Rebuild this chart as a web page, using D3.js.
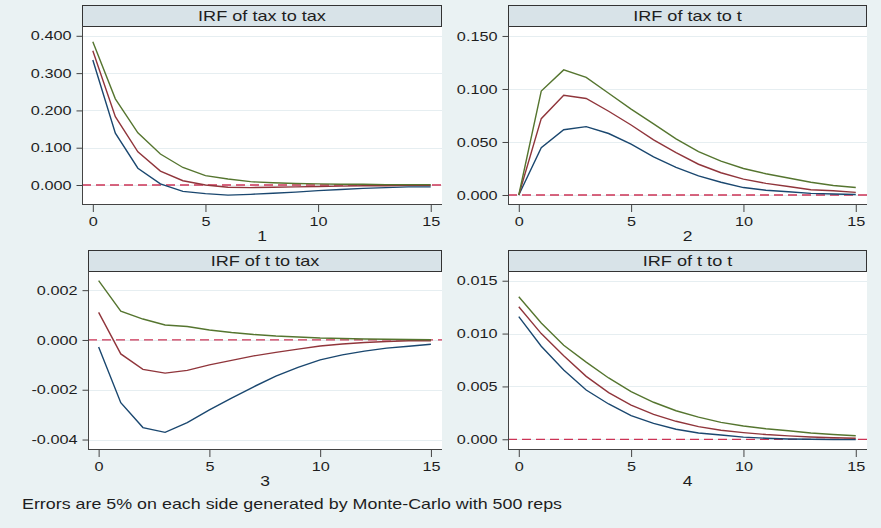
<!DOCTYPE html>
<html>
<head>
<meta charset="utf-8">
<script src="https://cdn.jsdelivr.net/npm/d3@7"></script>
<style>
  html, body { margin: 0; padding: 0; background: #eaf2f3; }
  svg { display: block; }
  text { font-family: "Liberation Sans", Arial, Helvetica, sans-serif; fill: #1e1e1e; }
</style>
</head>
<body>
<svg id="chart" width="881" height="528"></svg>
<script>
// ---------------- data ----------------
const steps = d3.range(0, 16);

const panelTitles = ["IRF of tax to tax", "IRF of tax to t", "IRF of t to tax", "IRF of t to t"];
const axisTitles = ["1", "2", "3", "4"];
const xTicks = [0, 5, 10, 15];
const xTickLabels = ["0", "5", "10", "15"];

const yTicks1 = [0, 0.1, 0.2, 0.3, 0.4];
const yTickLabels1 = ["0.000", "0.100", "0.200", "0.300", "0.400"];
const yTicks2 = [0, 0.05, 0.1, 0.15];
const yTickLabels2 = ["0.000", "0.050", "0.100", "0.150"];
const yTicks3 = [-0.004, -0.002, 0, 0.002];
const yTickLabels3 = ["-0.004", "-0.002", "0.000", "0.002"];
const yTicks4 = [0, 0.005, 0.01, 0.015];
const yTickLabels4 = ["0.000", "0.005", "0.010", "0.015"];

// IRF of tax to tax
const lower1 = [0.335, 0.139, 0.045, 0.003, -0.017, -0.023, -0.027, -0.025, -0.022, -0.019, -0.015, -0.012, -0.009, -0.007, -0.005, -0.005];
const irf1   = [0.360, 0.183, 0.089, 0.0375, 0.0115, 0.000, -0.006, -0.007, -0.006, -0.005, -0.004, -0.003, -0.002, -0.002, -0.001, -0.001];
const upper1 = [0.384, 0.231, 0.140, 0.083, 0.047, 0.025, 0.016, 0.009, 0.006, 0.004, 0.003, 0.002, 0.002, 0.001, 0.001, 0.001];

// IRF of tax to t
const lower2 = [0, 0.0446, 0.0616, 0.0645, 0.058, 0.048, 0.036, 0.026, 0.018, 0.012, 0.007, 0.0045, 0.003, 0.0015, 0.001, 0.0005];
const irf2   = [0, 0.072, 0.094, 0.091, 0.079, 0.066, 0.052, 0.040, 0.029, 0.021, 0.015, 0.011, 0.008, 0.005, 0.004, 0.0025];
const upper2 = [0, 0.098, 0.118, 0.111, 0.096, 0.081, 0.067, 0.053, 0.041, 0.032, 0.025, 0.020, 0.016, 0.012, 0.009, 0.007];

// IRF of t to tax
const lower3 = [-0.00028, -0.00252, -0.00352, -0.00371, -0.00332, -0.00281, -0.00234, -0.00188, -0.00145, -0.0011, -0.0008, -0.0006, -0.00045, -0.00033, -0.00025, -0.00017];
const irf3   = [0.00111, -0.00056, -0.00118, -0.00133, -0.00122, -0.0010, -0.00082, -0.00064, -0.0005, -0.00037, -0.00024, -0.00016, -0.0001, -0.00006, -0.00003, -0.00003];
const upper3 = [0.00238, 0.00116, 0.00084, 0.0006, 0.00054, 0.0004, 0.0003, 0.00022, 0.00016, 0.00012, 0.00008, 0.00006, 0.00004, 0.00003, 0.00002, 0.00001];

// IRF of t to t
const lower4 = [0.0116, 0.0088, 0.00655, 0.00466, 0.00334, 0.00224, 0.0015, 0.00095, 0.0006, 0.0004, 0.0002, 0.0001, 0.00003, 0.0, -0.00002, -0.00003];
const irf4   = [0.01254, 0.0100, 0.0079, 0.00595, 0.00441, 0.00324, 0.00235, 0.0017, 0.0012, 0.00085, 0.00063, 0.00045, 0.00032, 0.00022, 0.00015, 0.0001];
const upper4 = [0.01349, 0.0110, 0.0089, 0.0073, 0.0058, 0.0045, 0.0035, 0.0027, 0.0021, 0.0016, 0.00125, 0.001, 0.0008, 0.0006, 0.00045, 0.00034];

const footnote = "Errors are 5% on each side generated by Monte-Carlo with 500 reps";

// ---------------- layout ----------------
const SX = 1.25; // horizontal stretch of the original raster text
const colors = { lower: "#1a476f", irf: "#90353b", upper: "#55752f", zero: "#cc3355" };

const panels = [
  { rect: [82, 26, 442, 204], yDom: [-0.0509, 0.4263], ticks: yTicks1, labels: yTickLabels1, series: [lower1, irf1, upper1] },
  { rect: [508, 26, 867, 204], yDom: [-0.0085, 0.1594], ticks: yTicks2, labels: yTickLabels2, series: [lower2, irf2, upper2] },
  { rect: [88, 271, 442, 449], yDom: [-0.00438, 0.00277], ticks: yTicks3, labels: yTickLabels3, series: [lower3, irf3, upper3] },
  { rect: [508, 271, 867, 449], yDom: [-0.00092, 0.01592], ticks: yTicks4, labels: yTickLabels4, series: [lower4, irf4, upper4] }
];

const svg = d3.select("#chart");
svg.append("rect").attr("width", 881).attr("height", 528).attr("fill", "#eaf2f3");

function stretchedText(g, x, y, str, size, anchor) {
  return g.append("text")
    .attr("transform", `translate(${x},${y}) scale(${SX},1)`)
    .attr("text-anchor", anchor)
    .attr("font-size", size)
    .text(str);
}

panels.forEach((p, i) => {
  const [x0, y0, x1, y1] = p.rect;
  const g = svg.append("g");
  const x = d3.scaleLinear().domain([-0.48, 15.5]).range([x0, x1]);
  const y = d3.scaleLinear().domain(p.yDom).range([y1, y0]);

  // plot region
  g.append("rect").attr("x", x0).attr("y", y0).attr("width", x1 - x0).attr("height", y1 - y0).attr("fill", "#ffffff");

  // grid lines
  g.selectAll(".grid").data(p.ticks).enter().append("line")
    .attr("x1", x0).attr("x2", x1)
    .attr("y1", d => Math.round(y(d)) + 0.5).attr("y2", d => Math.round(y(d)) + 0.5)
    .attr("stroke", "#e6eef1").attr("stroke-width", 1.2);

  // header
  const hTop = y0 - 21;
  g.append("rect").attr("x", x0 + 0.5).attr("y", hTop + 0.5).attr("width", x1 - x0 - 1).attr("height", 21)
    .attr("fill", "#d8e3e8").attr("stroke", "#333").attr("stroke-width", 1);
  stretchedText(g, (x0 + x1) / 2, hTop + 16, panelTitles[i], 14.5, "middle");

  // zero reference line
  g.append("line")
    .attr("x1", x0).attr("x2", x1)
    .attr("y1", y(0)).attr("y2", y(0))
    .attr("stroke", colors.zero).attr("stroke-width", 1.3).attr("stroke-dasharray", "9,5");

  // series
  const line = d3.line().x((d, j) => x(steps[j])).y(d => y(d));
  const cols = [colors.lower, colors.irf, colors.upper];
  p.series.forEach((s, k) => {
    g.append("path").datum(s).attr("d", line)
      .attr("fill", "none").attr("stroke", cols[k]).attr("stroke-width", 1.4);
  });

  // axis lines
  g.append("line").attr("x1", x0 + 0.5).attr("x2", x0 + 0.5).attr("y1", y0).attr("y2", y1 + 0.5)
    .attr("stroke", "#444").attr("stroke-width", 1);
  g.append("line").attr("x1", x0).attr("x2", x1).attr("y1", y1 + 0.5).attr("y2", y1 + 0.5)
    .attr("stroke", "#444").attr("stroke-width", 1);

  // y axis
  const ya = g.append("g").attr("transform", `translate(${x0 + 0.5},0)`)
    .call(d3.axisLeft(y).tickValues(p.ticks).tickFormat((d, j) => p.labels[j]).tickSize(6).tickPadding(5));
  ya.select(".domain").remove();
  ya.selectAll("line").attr("stroke", "#444");
  ya.selectAll("text").attr("font-size", 13).attr("fill", "#1e1e1e")
    .attr("font-family", '"Liberation Sans", Arial, sans-serif')
    .attr("x", -11 / SX).attr("transform", `scale(${SX},1)`);

  // x axis
  const xa = g.append("g").attr("transform", `translate(0,${y1 + 1})`)
    .call(d3.axisBottom(x).tickValues(xTicks).tickFormat((d, j) => xTickLabels[j]).tickSize(7).tickPadding(5));
  xa.select(".domain").remove();
  xa.selectAll("line").attr("stroke", "#444");
  xa.selectAll("text").attr("font-size", 13).attr("fill", "#1e1e1e")
    .attr("font-family", '"Liberation Sans", Arial, sans-serif')
    .attr("transform", `scale(${SX},1)`);

  // axis title
  stretchedText(g, (x0 + x1) / 2, y1 + 37, axisTitles[i], 14, "middle");
});

stretchedText(svg, 22, 509, footnote, 14.3, "start");
</script>
</body>
</html>
